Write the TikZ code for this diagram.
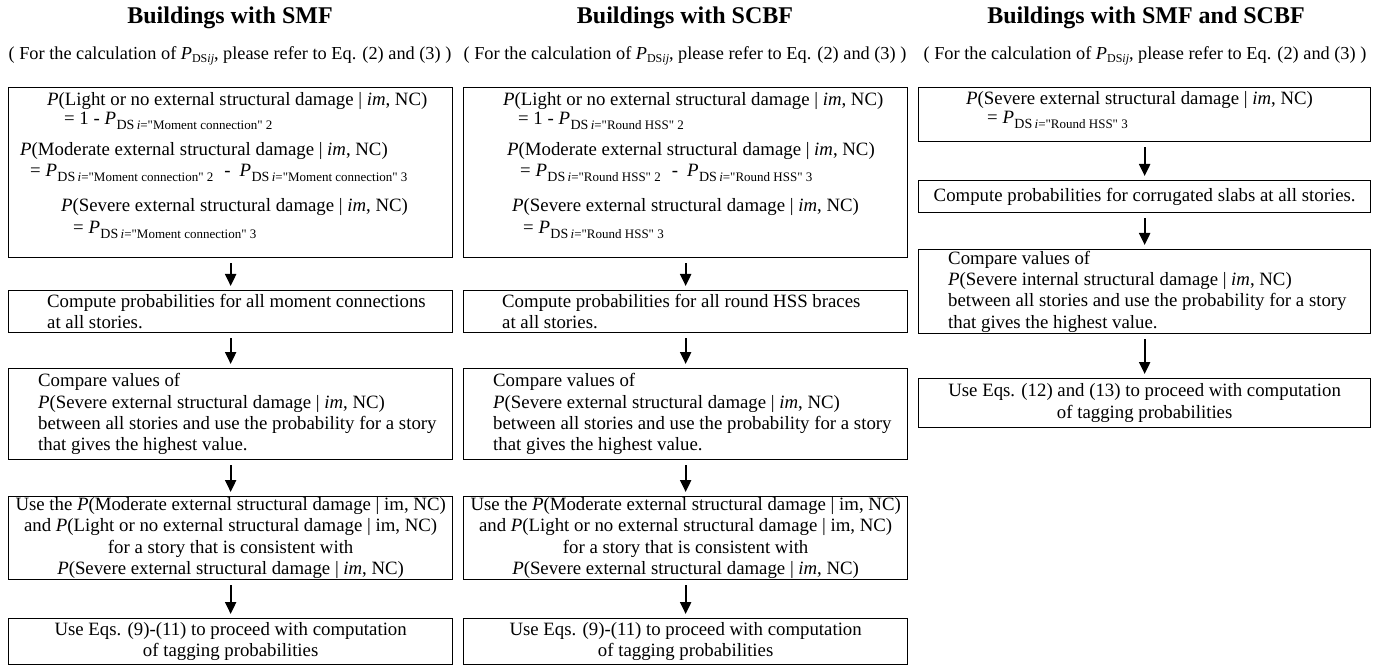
\documentclass[tikz,border=0pt]{standalone}
\usepackage{fontspec}
\setmainfont{Liberation Serif}[Ligatures=TeXOff]
\usetikzlibrary{arrows.meta}
\newcommand\fs{\fontsize{18.8}{21.4}\selectfont}
\newcommand\fss{\fontsize{18.3}{21.3}\selectfont}
\newcommand\PDSx[2]{\textit{P}\kern0.5pt\raisebox{-4.5pt}{\fontsize{14}{14}\selectfont DS\,\fontsize{13}{13}\selectfont\textit{i}="#1"\ #2}}
\newcommand\PDSij{\textit{P}\raisebox{-3pt}{\fontsize{12}{12}\selectfont DS\textit{ij}}}
\newcommand\mns{\hspace{11pt}-\hspace{9pt}}
\tikzset{
  box/.style={draw, line width=1.3pt, anchor=north west, inner sep=0pt},
  txt/.style={font=\fs, align=left, inner sep=0pt},
  ctxt/.style={font=\fs, align=center, inner sep=0pt},
  ttl/.style={font=\fontsize{24}{28}\selectfont\bfseries, inner sep=0pt},
  sub/.style={font=\fss, inner sep=0pt},
  arr/.style={line width=2.2pt, -{Triangle[length=12pt,width=11pt]}, shorten <=5pt, shorten >=4pt}
}
\begin{document}
\begin{tikzpicture}[x=1pt,y=-1pt]
\useasboundingbox (0,0) rectangle (1379,668);
% titles
\node[ttl] (t1) at (230,18) {Buildings with SMF};
\node[ttl] (t2) at (685,18) {Buildings with SCBF};
\node[ttl] (t3) at (1146,18) {Buildings with SMF and SCBF};
\node[sub] (s1) at (230,56) {( For the calculation of \PDSij, please refer to Eq. (2) and (3) )};
\node[sub] (s2) at (685,56) {( For the calculation of \PDSij, please refer to Eq. (2) and (3) )};
\node[sub] (s3) at (1145,56) {( For the calculation of \PDSij, please refer to Eq. (2) and (3) )};
% ---------------- column 1
\node[box, minimum width=444pt, minimum height=170pt] (a1) at (8,87) {};
\node[txt, anchor=base west] (a1l1) at (47,106) {\textit{P}(Light or no external structural damage | \textit{im}, NC)};
\node[txt, anchor=base west] (a1l2) at (64,125) {= 1 - \PDSx{Moment connection}{2}};
\node[txt, anchor=base west] (a1l3) at (20,156) {\textit{P}(Moderate external structural damage | \textit{im}, NC)};
\node[txt, anchor=base west] (a1l4) at (30,177) {= \PDSx{Moment connection}{2}\mns\PDSx{Moment connection}{3}};
\node[txt, anchor=base west] (a1l5) at (61,212) {\textit{P}(Severe external structural damage | \textit{im}, NC)};
\node[txt, anchor=base west] (a1l6) at (73,234) {= \PDSx{Moment connection}{3}};
\node[box, minimum width=444pt, minimum height=42pt] (a2) at (8,290) {};
\node[txt, anchor=west] (a2t) at ([xshift=39pt]a2.west) {Compute probabilities for all moment connections\\at all stories.};
\node[box, minimum width=444pt, minimum height=91pt] (a3) at (8,368) {};
\node[txt, anchor=west] (a3t) at ([xshift=30pt]a3.west) {Compare values of\\\textit{P}(Severe external structural damage | \textit{im}, NC)\\between all stories and use the probability for a story\\that gives the highest value.};
\node[box, minimum width=444pt, minimum height=83pt] (a4) at (8,496) {};
\node[ctxt] (a4t) at (a4.center) {Use the \textit{P}(Moderate external structural damage | im, NC)\\and \textit{P}(Light or no external structural damage | im, NC)\\for a story that is consistent with\\\textit{P}(Severe external structural damage | \textit{im}, NC)};
\node[box, minimum width=444pt, minimum height=46pt] (a5) at (8,618) {};
\node[ctxt] (a5t) at (a5.center) {Use Eqs. (9)-(11) to proceed with computation\\of tagging probabilities};
\draw[arr] (a1.south) -- (a2.north);
\draw[arr] (a2.south) -- (a3.north);
\draw[arr] (a3.south) -- (a4.north);
\draw[arr] (a4.south) -- (a5.north);
% ---------------- column 2
\node[box, minimum width=444pt, minimum height=170pt] (b1) at (463,87) {};
\node[txt, anchor=base west] (b1l1) at (503,106) {\textit{P}(Light or no external structural damage | \textit{im}, NC)};
\node[txt, anchor=base west] (b1l2) at (518,125) {= 1 - \PDSx{Round HSS}{2}};
\node[txt, anchor=base west] (b1l3) at (507,156) {\textit{P}(Moderate external structural damage | \textit{im}, NC)};
\node[txt, anchor=base west] (b1l4) at (520,177) {= \PDSx{Round HSS}{2}\mns\PDSx{Round HSS}{3}};
\node[txt, anchor=base west] (b1l5) at (512,212) {\textit{P}(Severe external structural damage | \textit{im}, NC)};
\node[txt, anchor=base west] (b1l6) at (523,234) {= \PDSx{Round HSS}{3}};
\node[box, minimum width=444pt, minimum height=42pt] (b2) at (463,290) {};
\node[txt, anchor=west] (b2t) at ([xshift=39pt]b2.west) {Compute probabilities for all round HSS braces\\at all stories.};
\node[box, minimum width=444pt, minimum height=91pt] (b3) at (463,368) {};
\node[txt, anchor=west] (b3t) at ([xshift=30pt]b3.west) {Compare values of\\\textit{P}(Severe external structural damage | \textit{im}, NC)\\between all stories and use the probability for a story\\that gives the highest value.};
\node[box, minimum width=444pt, minimum height=83pt] (b4) at (463,496) {};
\node[ctxt] (b4t) at (b4.center) {Use the \textit{P}(Moderate external structural damage | im, NC)\\and \textit{P}(Light or no external structural damage | im, NC)\\for a story that is consistent with\\\textit{P}(Severe external structural damage | \textit{im}, NC)};
\node[box, minimum width=444pt, minimum height=46pt] (b5) at (463,618) {};
\node[ctxt] (b5t) at (b5.center) {Use Eqs. (9)-(11) to proceed with computation\\of tagging probabilities};
\draw[arr] (b1.south) -- (b2.north);
\draw[arr] (b2.south) -- (b3.north);
\draw[arr] (b3.south) -- (b4.north);
\draw[arr] (b4.south) -- (b5.north);
% ---------------- column 3
\node[box, minimum width=452pt, minimum height=54pt] (c1) at (918,87) {};
\node[txt, anchor=base west] (c1l1) at (966,105) {\textit{P}(Severe external structural damage | \textit{im}, NC)};
\node[txt, anchor=base west] (c1l2) at (987,124) {= \PDSx{Round HSS}{3}};
\node[box, minimum width=452pt, minimum height=32pt] (c2) at (918,180) {};
\node[ctxt] (c2t) at (c2.center) {Compute probabilities for corrugated slabs at all stories.};
\node[box, minimum width=452pt, minimum height=84pt] (c3) at (918,249) {};
\node[txt, anchor=west] (c3t) at ([xshift=30pt]c3.west) {Compare values of\\\textit{P}(Severe internal structural damage | \textit{im}, NC)\\between all stories and use the probability for a story\\that gives the highest value.};
\node[box, minimum width=452pt, minimum height=49pt] (c4) at (918,378) {};
\node[ctxt] (c4t) at (c4.center) {Use Eqs. (12) and (13) to proceed with computation\\of tagging probabilities};
\draw[arr] (c1.south) -- (c2.north);
\draw[arr] (c2.south) -- (c3.north);
\draw[arr] (c3.south) -- (c4.north);
\end{tikzpicture}
\end{document}
